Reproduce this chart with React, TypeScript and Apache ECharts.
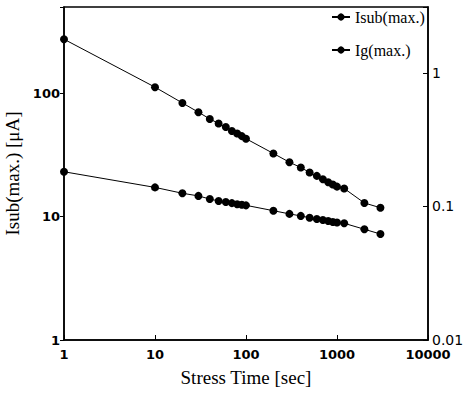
import React, { useEffect, useRef } from "react";
import * as echarts from "echarts";

const stressTime = [1, 10, 20, 30, 40, 50, 60, 70, 80, 90, 100, 200, 300, 400, 500, 600, 700, 800, 900, 1000, 1200, 2000, 3000];
const isubMax = [274, 112, 83.4, 70.2, 61.9, 56.9, 53.3, 49.5, 47.2, 44.9, 42.8, 32.5, 27.6, 25.0, 22.8, 21.4, 20.1, 19.0, 18.2, 17.5, 16.9, 12.9, 11.8];
const igMax = [0.182, 0.139, 0.1256, 0.12, 0.1137, 0.11, 0.108, 0.106, 0.104, 0.103, 0.102, 0.093, 0.088, 0.085, 0.0824, 0.0806, 0.0793, 0.0779, 0.0766, 0.0759, 0.0748, 0.0675, 0.0622];
const xTicks = [1, 10, 100, 1000, 10000];
const leftTicks = [1, 10, 100];
const rightTicks = [0.01, 0.1, 1];

const near = (v: number, list: number[]) => list.some((t) => Math.abs(Math.log10(v) - Math.log10(t)) < 1e-6);

export default function App() {
  const ref = useRef<HTMLDivElement>(null);
  useEffect(() => {
    if (!ref.current) return;
    const chart = echarts.init(ref.current, null, { renderer: "svg" });
    const sans = "DejaVu Sans";
    const serif = "Liberation Serif";
    const tickFont = { fontFamily: sans, fontSize: 13, fontWeight: "bold" as const, color: "#000" };
    chart.setOption({
      animation: false,
      backgroundColor: "#fff",
      grid: {
        left: 64,
        right: 40,
        top: 7,
        bottom: 59,
        show: true,
        borderColor: "#000",
        borderWidth: 1.5,
        containLabel: false,
        outerBoundsMode: "none",
      },
      legend: {
        orient: "vertical",
        left: 326,
        top: 4,
        itemGap: 17,
        itemWidth: 18,
        itemHeight: 9,
        textStyle: { fontFamily: serif, fontSize: 16, color: "#000" },
        data: ["Isub(max.)", "Ig(max.)"],
      },
      xAxis: {
        type: "log",
        logBase: 10,
        min: 1,
        max: 10000,
        name: "Stress Time [sec]",
        nameLocation: "middle",
        nameGap: 28,
        nameTextStyle: { fontFamily: serif, fontSize: 19, color: "#000" },
        axisLine: { lineStyle: { color: "#000", width: 1.5 } },
        axisTick: { inside: true, length: 5, lineStyle: { color: "#000" } },
        axisLabel: {
          ...tickFont,
          margin: 8,
          formatter: (v: number) => (near(v, xTicks) ? String(Math.round(v)) : ""),
        },
        splitLine: { show: false },
      },
      yAxis: [
        {
          type: "log",
          logBase: 10,
          min: 1,
          max: 500,
          name: "Isub(max.) [\u03bcA]",
          nameLocation: "middle",
          nameGap: 40,
          nameTextStyle: { fontFamily: serif, fontSize: 19, color: "#000" },
          axisLine: { lineStyle: { color: "#000", width: 1.5 } },
          axisTick: { inside: false, length: 4, lineStyle: { color: "#000" } },
          axisLabel: {
            ...tickFont,
            margin: 4,
            formatter: (v: number) => (near(v, leftTicks) ? String(Math.round(v)) : ""),
          },
          splitLine: { show: false },
        },
        {
          type: "log",
          logBase: 10,
          min: 0.01,
          max: 3.12,
          position: "right",
          axisLine: { lineStyle: { color: "#000", width: 1.5 } },
          axisTick: { inside: true, length: 5, lineStyle: { color: "#000" } },
          axisLabel: {
            ...tickFont,
            fontWeight: "normal",
            fontSize: 14,
            margin: 4,
            formatter: (v: number) => {
              if (!near(v, rightTicks)) return "";
              return v >= 1 ? "1" : v >= 0.1 ? "0.1" : "0.01";
            },
          },
          splitLine: { show: false },
        },
      ],
      series: [
        {
          name: "Isub(max.)",
          type: "line",
          yAxisIndex: 0,
          data: stressTime.map((t, i) => [t, isubMax[i]]),
          symbol: "circle",
          symbolSize: 8,
          itemStyle: { color: "#000" },
          lineStyle: { color: "#000", width: 1 },
        },
        {
          name: "Ig(max.)",
          type: "line",
          yAxisIndex: 1,
          data: stressTime.map((t, i) => [t, igMax[i]]),
          symbol: "circle",
          symbolSize: 8,
          itemStyle: { color: "#000" },
          lineStyle: { color: "#000", width: 1 },
        },
      ],
    });
    return () => chart.dispose();
  }, []);
  return <div ref={ref} style={{ width: 468, height: 399, position: "absolute", left: 0, top: 0 }} />;
}
